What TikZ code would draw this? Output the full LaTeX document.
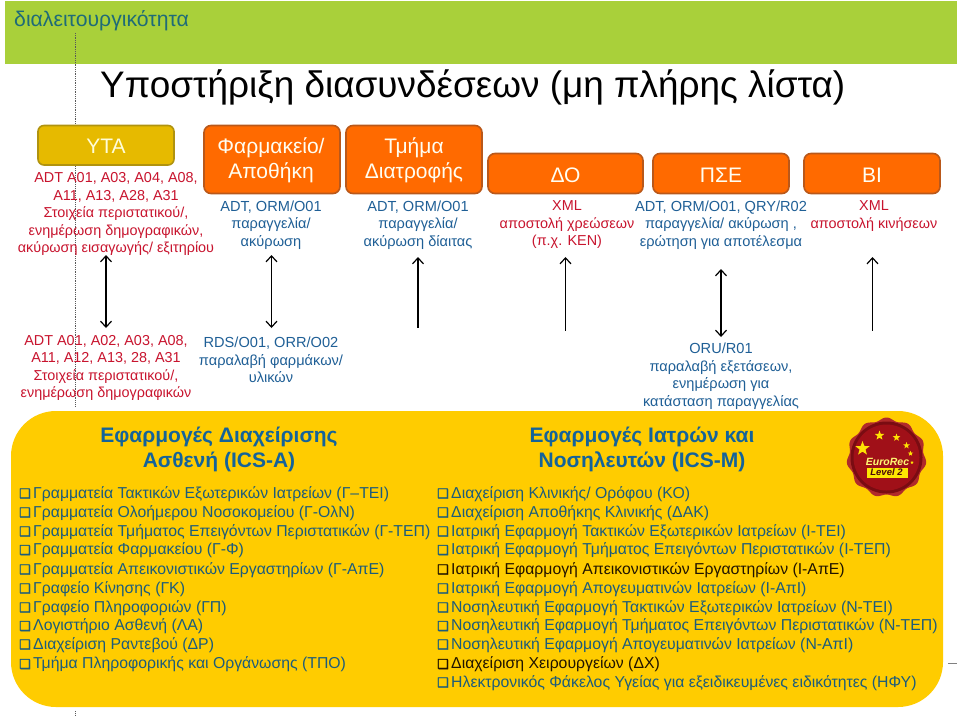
\documentclass[tikz,border=0pt]{standalone}
\usepackage{fontspec}
\setmainfont{Liberation Sans}
\newfontfamily\symfont[FakeBold=1.6]{DejaVu Sans}
\usetikzlibrary{shapes.geometric,arrows.meta}
\definecolor{green0}{HTML}{A9D03A}
\definecolor{teal0}{HTML}{1F6B78}
\definecolor{gold0}{HTML}{E6BA00}
\definecolor{goldE}{HTML}{B0930F}
\definecolor{org0}{HTML}{FF6A00}
\definecolor{orgE}{HTML}{B9581A}
\definecolor{yel0}{HTML}{FFCC00}
\definecolor{red0}{HTML}{C8142E}
\definecolor{blue0}{HTML}{1F5F96}
\definecolor{list0}{HTML}{1C5C7C}
\definecolor{listD}{HTML}{201400}
\definecolor{head0}{HTML}{14639A}
\definecolor{wax0}{HTML}{A01018}
\definecolor{wax1}{HTML}{7A0C12}
\definecolor{wax2}{HTML}{B02A2A}
\tikzset{
  x=1pt,y=-1pt,
  box/.style={draw=orgE,fill=org0,line width=1.6pt,rounded corners=7pt,text=white},
  boxtxt/.style={text=white!95!yellow,align=center,inner sep=0pt,font=\fontsize{21}{25}\selectfont},
  redtxt/.style={text=red0,align=center,inner sep=0pt,font=\fontsize{14.4}{17.5}\selectfont},
  bluetxt/.style={text=blue0,align=center,inner sep=0pt,font=\fontsize{14.6}{17.5}\selectfont},
  headtxt/.style={text=head0,align=center,inner sep=0pt,font=\fontsize{21}{25}\selectfont\bfseries},
  li/.style={text=list0,anchor=base west,inner sep=0pt,font=\fontsize{15.8}{18}\selectfont},
  lid/.style={li,text=listD},
  link/.style={line width=1.4pt,black},
  both/.style={link,{Straight Barb[length=6pt,width=11pt,line width=1.2pt]}-{Straight Barb[length=6pt,width=11pt,line width=1.2pt]}},
  uponly/.style={link,{Straight Barb[length=6pt,width=11pt,line width=1.2pt]}-},
  seal star/.style={star,star points=5,star point ratio=2.4,fill=yellow!85!orange,inner sep=0pt},
}
\newcommand{\qb}{\makebox[14pt][l]{\symfont\fontsize{13}{13}\selectfont ❑}}
\begin{document}
\begin{tikzpicture}
\useasboundingbox (0,0) rectangle (960,716);
\fill[white] (0,0) rectangle (960,716);
\fill[green0] (4.5,1) rectangle (957,64);
\node[text=teal0,anchor=base west,inner sep=0pt,font=\fontsize{21.2}{24}\selectfont] (tt) at (14,26) {διαλειτουργικότητα};
\node[anchor=base west,inner sep=0pt,font=\fontsize{36.9}{40}\selectfont] (title) at (100,97) {Υποστήριξη διασυνδέσεων (μη πλήρης λίστα)};

\draw[gray!70!black,densely dotted,line width=.8pt] (75,33) coordinate (d1) -- (75,407) coordinate (d2);
\draw[gray!70!black,densely dotted,line width=.8pt] (75.5,711) -- (75.5,716);
\draw[gray,line width=.8pt] (948,663) -- (957,663);

\fill[yel0,rounded corners=45pt] (11,411) rectangle (943,707);

% boxes
\draw[draw=goldE,fill=gold0,line width=1.6pt,rounded corners=6pt] (38,125.5) rectangle (174,165);
\node[boxtxt,text=yellow!15!white] (n1) at (106,146) {ΥΤΑ};
\draw[box] (204,125.5) rectangle (340,193.5);
\node[boxtxt] (n2) at (271,160) {Φαρμακείο/\\Αποθήκη};
\draw[box] (346,125.5) rectangle (482,193.5);
\node[boxtxt] (n3) at (414,160) {Τμήμα\\Διατροφής};
\draw[box] (488,153.5) rectangle (643,193.5);
\node[boxtxt] (n4) at (565.5,175) {ΔΟ};
\draw[box] (653,153.5) rectangle (789,193.5);
\node[boxtxt] (n5) at (721,175) {ΠΣΕ};
\draw[box] (804,153.5) rectangle (940,193.5);
\node[boxtxt] (n6) at (872,175) {ΒΙ};

% labels
\node[redtxt] (l1) at (116,214) {ADT A01, A03, A04, A08,\\A11, A13, A28, A31\\Στοιχεία περιστατικού/,\\ενημέρωση δημογραφικών,\\ακύρωση εισαγωγής/ εξιτηρίου};
\node[bluetxt] (l2) at (271,225) {ADT, ORM/O01\\παραγγελία/\\ακύρωση};
\node[bluetxt] (l3) at (418,225) {ADT, ORM/O01\\παραγγελία/\\ακύρωση δίαιτας};
\node[redtxt] (l4) at (567,225) {XML\\αποστολή χρεώσεων\\(π.χ. ΚΕΝ)};
\node[bluetxt] (l5) at (721,225) {ADT, ORM/O01, QRY/R02\\παραγγελία/ ακύρωση ,\\ερώτηση για αποτέλεσμα};
\node[redtxt] (l6) at (874,216) {XML\\αποστολή κινήσεων};

\node[redtxt] (b1) at (106,368) {ADT A01, A02, A03, A08,\\A11, A12, A13, 28, A31\\Στοιχεία περιστατικού/,\\ενημέρωση δημογραφικών};
\node[bluetxt] (b2) at (271,360) {RDS/O01, ORR/O02\\παραλαβή φαρμάκων/\\υλικών};
\node[bluetxt] (b5) at (721,376) {ORU/R01\\παραλαβή εξετάσεων,\\ενημέρωση για\\κατάσταση παραγγελίας};

% arrows
\coordinate (a1t) at (106,255); \coordinate (a1b) at (106,328);
\coordinate (a2t) at (271.5,255); \coordinate (a2b) at (271.5,328);
\coordinate (a3t) at (418,257); \coordinate (a3b) at (418,328);
\coordinate (a4t) at (565.5,257); \coordinate (a4b) at (565.5,331);
\coordinate (a5t) at (721,269); \coordinate (a5b) at (721,337);
\coordinate (a6t) at (872.5,257); \coordinate (a6b) at (872.5,331);
\draw[both] (a1t) -- (a1b);
\draw[both] (a2t) -- (a2b);
\draw[uponly] (a3t) -- (a3b);
\draw[uponly] (a4t) -- (a4b);
\draw[both] (a5t) -- (a5b);
\draw[uponly] (a6t) -- (a6b);

% headings
\node[headtxt] (h1) at (219,449) {Εφαρμογές Διαχείρισης\\Ασθενή (ICS-A)};
\node[headtxt] (h2) at (642,449) {Εφαρμογές Ιατρών και\\Νοσηλευτών (ICS-M)};

% left list
\foreach \i/\yy/\tx in {1/498/{Γραμματεία Τακτικών Εξωτερικών Ιατρείων (Γ–ΤΕΙ)},
 2/517/{Γραμματεία Ολοήμερου Νοσοκομείου (Γ-ΟλΝ)},
 3/536/{Γραμματεία Τμήματος Επειγόντων Περιστατικών (Γ-ΤΕΠ)},
 4/554.5/{Γραμματεία Φαρμακείου (Γ-Φ)},
 5/574/{Γραμματεία Απεικονιστικών Εργαστηρίων (Γ-ΑπΕ)},
 6/593/{Γραφείο Κίνησης (ΓΚ)},
 7/612/{Γραφείο Πληροφοριών (ΓΠ)},
 8/630.5/{Λογιστήριο Ασθενή (ΛΑ)},
 9/649/{Διαχείριση Ραντεβού (ΔΡ)},
 10/668.5/{Τμήμα Πληροφορικής και Οργάνωσης (ΤΠΟ)}}
 {\node[li] (L\i) at (19,\yy) {\qb\tx};}

% right list
\foreach \i/\yy/\st/\tx in {1/498/li/{Διαχείριση Κλινικής/ Ορόφου (ΚΟ)},
 2/517/li/{Διαχείριση Αποθήκης Κλινικής (ΔΑΚ)},
 3/536/li/{Ιατρική Εφαρμογή Τακτικών Εξωτερικών Ιατρείων (Ι-ΤΕΙ)},
 4/554.5/li/{Ιατρική Εφαρμογή Τμήματος Επειγόντων Περιστατικών (Ι-ΤΕΠ)},
 5/574/lid/{Ιατρική Εφαρμογή Απεικονιστικών Εργαστηρίων (Ι-ΑπΕ)},
 6/593/li/{Ιατρική Εφαρμογή Απογευματινών Ιατρείων (Ι-ΑπΙ)},
 7/612/li/{Νοσηλευτική Εφαρμογή Τακτικών Εξωτερικών Ιατρείων (Ν-ΤΕΙ)},
 8/630.5/li/{Νοσηλευτική Εφαρμογή Τμήματος Επειγόντων Περιστατικών (Ν-ΤΕΠ)},
 9/649/li/{Νοσηλευτική Εφαρμογή Απογευματινών Ιατρείων (Ν-ΑπΙ)},
 10/668.5/lid/{Διαχείριση Χειρουργείων (ΔΧ)},
 11/687/li/{Ηλεκτρονικός Φάκελος Υγείας για εξειδικευμένες ειδικότητες (ΗΦΥ)}}
 {\node[\st] (R\i) at (437,\yy) {\qb\tx};}

% seal
\begin{scope}[shift={(886.5,457.5)}]
\fill[wax2] plot[domain=0:360,samples=145,smooth] ({(38.5+1.5*sin(11*\x))*cos(\x)},{(38.5+1.5*sin(11*\x))*sin(\x)}) -- cycle;
\fill[wax1] (0,0) circle (36);
\fill[wax0] (0,0) circle (33);
\node[seal star,minimum size=15pt] (s1) at (-24,-9) {};
\node[seal star,minimum size=10pt] (s2) at (-7,-22) {};
\node[seal star,minimum size=8pt] (s3) at (10,-20) {};
\node[seal star,minimum size=7pt] (s4) at (20,-12) {};
\node[seal star,minimum size=5.5pt] (s5) at (24,-4) {};
\node[seal star,minimum size=3.5pt] (s5b) at (25.5,5) {};
\node[text=yellow!55!white,inner sep=0pt,font=\fontsize{10.5}{11}\selectfont\bfseries\itshape] (s6) at (1,4.5) {EuroRec};
\fill[yellow!90!orange] (-20,10) rectangle (21,20);
\node[text=wax1!60!black,inner sep=0pt,font=\fontsize{9.5}{11}\selectfont\bfseries\itshape] (s7) at (0,15) {Level 2};
\end{scope}
\end{tikzpicture}
\end{document}
